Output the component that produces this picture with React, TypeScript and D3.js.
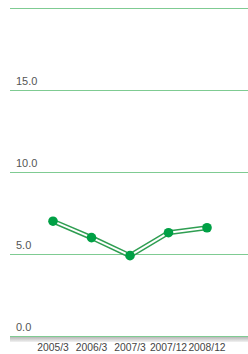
import React from 'react';
import * as d3 from 'd3';

const categories = ['2005/3', '2006/3', '2007/3', '2007/12', '2008/12'];
const values = [7.0, 6.0, 4.9, 6.3, 6.6];
const yTicks = [0, 5, 10, 15, 20];

const W = 248;
const H = 354;

export default function App() {
  const x = d3.scalePoint<string>().domain(categories).range([53, 207]);
  const y = d3.scaleLinear().domain([0, 20]).range([336, 8]);
  const line = d3.line<number>()
    .x((_, i) => x(categories[i]) as number)
    .y(d => y(d));
  const path = line(values) || '';

  return (
    <svg width={W} height={H} style={{ position: 'absolute', left: 0, top: 0 }}>
      <defs>
        <linearGradient id="shadow" x1="0" y1="0" x2="0" y2="1">
          <stop offset="0" stopColor="#b8b8b8" />
          <stop offset="1" stopColor="#f2f2f2" />
        </linearGradient>
      </defs>
      <rect x={10} y={337} width={W - 10} height={5} fill="url(#shadow)" />
      {yTicks.map(t => (
        <g key={t}>
          <line x1={10} x2={W} y1={y(t) + 0.5} y2={y(t) + 0.5} stroke="#7fcb92" strokeWidth={1.2} />
          {t < 20 && (
            <text x={16} y={y(t) - 5} fontSize={11} fill="#555" fontFamily="Helvetica, Arial, sans-serif">
              {t.toFixed(1)}
            </text>
          )}
        </g>
      ))}
      <path d={path} fill="none" stroke="#2f9e52" strokeWidth={5} strokeLinejoin="round" />
      <path d={path} fill="none" stroke="#ffffff" strokeWidth={2} strokeLinejoin="round" />
      {values.map((v, i) => (
        <circle key={i} cx={x(categories[i])} cy={y(v)} r={4.8} fill="#00a045" />
      ))}
      {categories.map(c => (
        <text key={c} x={x(c)} y={351} textAnchor="middle" fontSize={10.3} fill="#444" fontFamily="Helvetica, Arial, sans-serif">
          {c}
        </text>
      ))}
    </svg>
  );
}
